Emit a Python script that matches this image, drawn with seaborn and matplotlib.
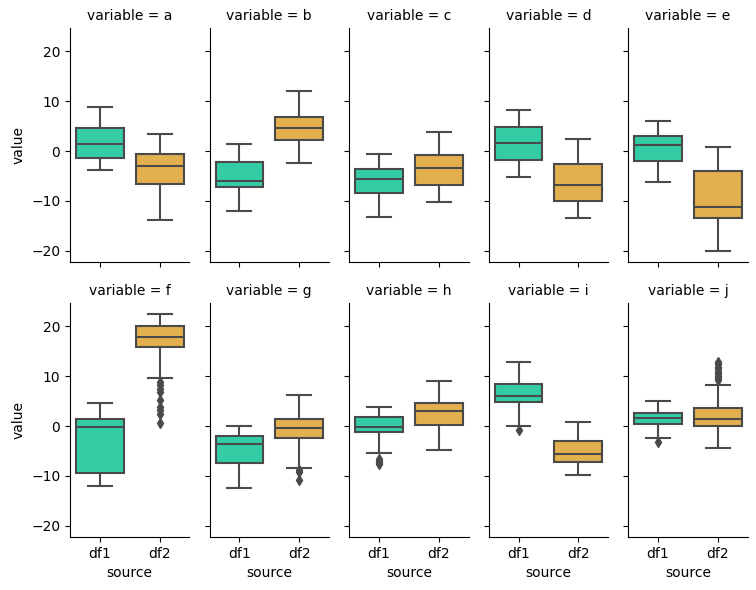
import numpy as np
import pandas as pd
import seaborn as sns
import matplotlib.pyplot as plt

variables = list("abcdefghij")
sources = ["df1", "df2"]

# box summaries: whisker low, q1, median, q3, whisker high
df1_low = [-3.8, -12.1, -13.2, -5.2, -6.2, -12.1, -12.5, -5.5, 0.1, -2.5]
df1_q1 = [-1.3, -7.3, -8.5, -1.8, -1.9, -9.5, -7.4, -1.3, 4.9, 0.5]
df1_med = [1.4, -6.0, -5.6, 1.6, 1.3, -0.1, -3.7, -0.1, 6.0, 1.7]
df1_q3 = [4.7, -2.2, -3.6, 4.8, 3.0, 1.5, -2.1, 1.9, 8.5, 2.7]
df1_high = [8.8, 1.4, -0.6, 8.3, 6.1, 4.7, 0.1, 3.9, 12.9, 5.1]

df2_low = [-13.9, -2.4, -10.2, -13.4, -20.1, 9.7, -8.4, -4.9, -9.9, -4.5]
df2_q1 = [-6.7, 2.2, -6.9, -10.0, -13.4, 15.9, -2.5, 0.2, -7.3, 0.1]
df2_med = [-2.9, 4.7, -3.3, -6.8, -11.2, 17.9, -0.5, 3.1, -5.7, 1.5]
df2_q3 = [-0.5, 6.8, -0.8, -2.6, -4.0, 20.1, 1.5, 4.7, -3.1, 3.7]
df2_high = [3.4, 12.1, 3.8, 2.5, 0.9, 22.5, 6.3, 9.1, 0.9, 8.3]

# outlier points
f_df2_out = [8.9, 8.3, 7.5, 6.8, 5.2, 3.8, 3.3, 2.5, 0.7]
g_df2_out = [-8.9, -9.3, -10.8]
h_df1_out = [-6.6, -7.0, -7.4, -7.7]
i_df1_out = [-0.9]
j_df1_out = [-3.3]
j_df2_out = [9.3, 9.7, 10.1, 10.5, 10.9, 11.4, 11.9, 12.4, 12.9]

outliers = {("f", "df2"): f_df2_out, ("g", "df2"): g_df2_out,
            ("h", "df1"): h_df1_out, ("i", "df1"): i_df1_out,
            ("j", "df1"): j_df1_out, ("j", "df2"): j_df2_out}

palette = {"df1": "#33cca5", "df2": "#e2b04e"}
line_color = "#4a4a4a"


def box_sample(lo, q1, med, q3, hi, extra):
    # weight the quartile values so the computed box matches the summary
    vals = np.repeat([lo, q1, med, q3, hi], [1, 20, 20, 20, 1])
    return list(vals) + list(extra)


summaries = {
    "df1": (df1_low, df1_q1, df1_med, df1_q3, df1_high),
    "df2": (df2_low, df2_q1, df2_med, df2_q3, df2_high),
}

rows = []
for i, v in enumerate(variables):
    for s in sources:
        lo, q1, med, q3, hi = (arr[i] for arr in summaries[s])
        for val in box_sample(lo, q1, med, q3, hi, outliers.get((v, s), [])):
            rows.append({"source": s, "variable": v, "value": val})
data = pd.DataFrame(rows)

g = sns.catplot(data=data, x="source", y="value", col="variable", col_wrap=5,
                kind="box", hue="source", palette=palette, saturation=1,
                legend=False, height=2.4, aspect=0.5, width=0.8,
                linecolor=line_color, linewidth=1.5,
                flierprops={"marker": "d", "markerfacecolor": line_color,
                            "markeredgecolor": line_color, "markersize": 5})

fig = g.figure
fig.set_size_inches(7.56, 5.9)
fig.subplots_adjust(left=0.0926, right=0.989, top=0.9525, bottom=0.0898,
                    wspace=0.168, hspace=0.175)
fig.savefig("out.png", dpi=100)
